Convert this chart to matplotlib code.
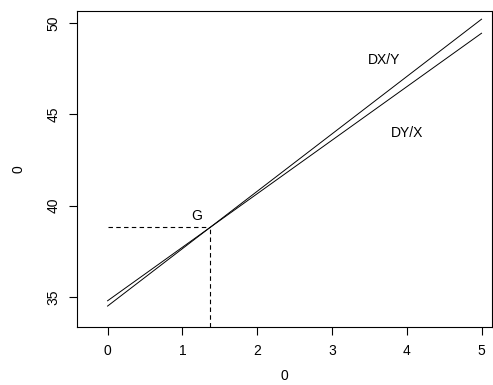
import matplotlib
matplotlib.use("Agg")
from matplotlib import pyplot as plt

# regression lines: intercept and slope
x_range = [0, 5]
dxy_line = [34.49, 3.146]   # DX/Y
dyx_line = [34.78, 2.934]   # DY/X
g_point = [1.366, 38.84]    # G, centre of gravity
x_ticks = [0, 1, 2, 3, 4, 5]
y_ticks = [35, 40, 45, 50]

plt.rcParams['font.family'] = ['Liberation Sans', 'DejaVu Sans']

fig = plt.figure(figsize=(4.93, 3.85), dpi=100)
ax = fig.add_axes([0.156, 0.151, 0.842, 0.82])

for b, a in [dxy_line, dyx_line]:
    ax.plot(x_range, [b + a * x for x in x_range], color='black', lw=0.7)

ylo = 33.35
ax.plot([0, g_point[0]], [g_point[1], g_point[1]], color='black', lw=0.8,
        ls=(0, (4, 3)))
ax.plot([g_point[0], g_point[0]], [ylo, g_point[1]], color='black', lw=0.8,
        ls=(0, (4, 3)))

ax.text(1.19, 39.45, 'G', ha='center', va='center', size=10)
ax.text(3.70, 47.97, 'DX/Y', ha='center', va='center', size=10)
ax.text(4.01, 43.96, 'DY/X', ha='center', va='center', size=10)

ax.set_xlim(-0.41, 5.14)
ax.set_ylim(ylo, 50.66)
ax.set_xticks(x_ticks)
ax.set_yticks(y_ticks)
ax.tick_params(length=6, width=0.8, labelsize=10, pad=6)
ax.tick_params(axis='y', labelrotation=90)
for lab in ax.get_yticklabels():
    lab.set_va('center')
for s in ax.spines.values():
    s.set_linewidth(0.8)

ax.set_xlabel('0', size=10, labelpad=8)
ax.set_ylabel('0', size=10, labelpad=15)

fig.savefig('out.png', dpi=100)
